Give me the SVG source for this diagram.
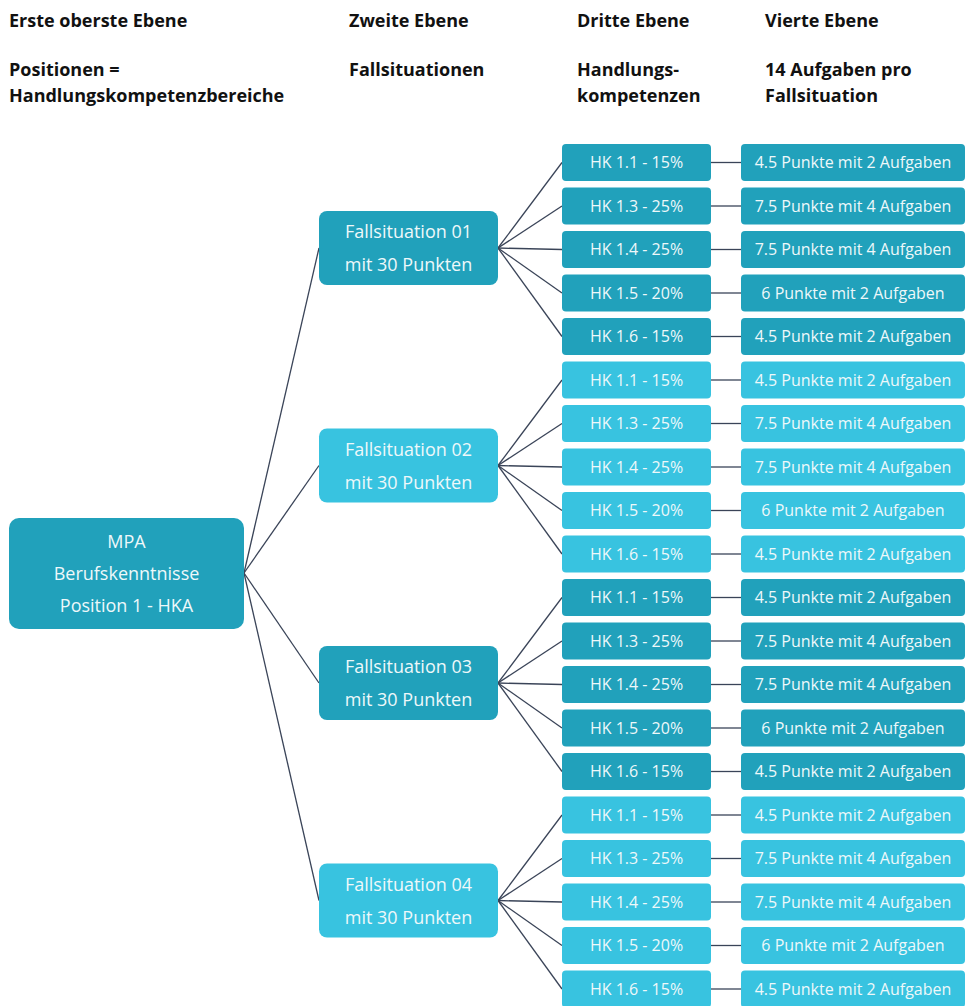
<svg xmlns="http://www.w3.org/2000/svg" width="972" height="1006" viewBox="0 0 972 1006">
<style>
.hdr{font-family:"Open Sans","Liberation Sans",sans-serif;font-weight:bold;font-size:18px;fill:#111111}
.t{font-family:"Open Sans","Liberation Sans",sans-serif;fill:#EEF8FA;text-anchor:middle}
.t18{font-size:18px}
.t16{font-size:16px}
.dk{fill:#21A1BB}
.lt{fill:#38C3E0}
.c line{stroke:#3A4458;stroke-width:1.3}
</style>
<rect width="972" height="1006" fill="#ffffff"/>
<g id="headers">
<text class="hdr" x="9" y="27">Erste oberste Ebene</text>
<text class="hdr" x="349" y="27">Zweite Ebene</text>
<text class="hdr" x="577" y="27">Dritte Ebene</text>
<text class="hdr" x="765" y="27">Vierte Ebene</text>
<text class="hdr" x="9" y="76">Positionen =</text>
<text class="hdr" x="9" y="102">Handlungskompetenzbereiche</text>
<text class="hdr" x="349" y="76">Fallsituationen</text>
<text class="hdr" x="577" y="76">Handlungs-</text>
<text class="hdr" x="577" y="102">kompetenzen</text>
<text class="hdr" x="765" y="76">14 Aufgaben pro</text>
<text class="hdr" x="765" y="102">Fallsituation</text>
</g>
<g class="c" id="connectors">
<line x1="244" y1="573" x2="319" y2="248"/>
<line x1="244" y1="573" x2="319" y2="465.5"/>
<line x1="244" y1="573" x2="319" y2="683"/>
<line x1="244" y1="573" x2="319" y2="900.5"/>
<line x1="498" y1="248" x2="562" y2="162.5"/>
<line x1="498" y1="248" x2="562" y2="206"/>
<line x1="498" y1="248" x2="562" y2="249.5"/>
<line x1="498" y1="248" x2="562" y2="293"/>
<line x1="498" y1="248" x2="562" y2="336.5"/>
<line x1="498" y1="465.5" x2="562" y2="380"/>
<line x1="498" y1="465.5" x2="562" y2="423.5"/>
<line x1="498" y1="465.5" x2="562" y2="467"/>
<line x1="498" y1="465.5" x2="562" y2="510.5"/>
<line x1="498" y1="465.5" x2="562" y2="554"/>
<line x1="498" y1="683" x2="562" y2="597.5"/>
<line x1="498" y1="683" x2="562" y2="641"/>
<line x1="498" y1="683" x2="562" y2="684.5"/>
<line x1="498" y1="683" x2="562" y2="728"/>
<line x1="498" y1="683" x2="562" y2="771.5"/>
<line x1="498" y1="900.5" x2="562" y2="815"/>
<line x1="498" y1="900.5" x2="562" y2="858.5"/>
<line x1="498" y1="900.5" x2="562" y2="902"/>
<line x1="498" y1="900.5" x2="562" y2="945.5"/>
<line x1="498" y1="900.5" x2="562" y2="989"/>
<line x1="711" y1="162.5" x2="741" y2="162.5"/>
<line x1="711" y1="206" x2="741" y2="206"/>
<line x1="711" y1="249.5" x2="741" y2="249.5"/>
<line x1="711" y1="293" x2="741" y2="293"/>
<line x1="711" y1="336.5" x2="741" y2="336.5"/>
<line x1="711" y1="380" x2="741" y2="380"/>
<line x1="711" y1="423.5" x2="741" y2="423.5"/>
<line x1="711" y1="467" x2="741" y2="467"/>
<line x1="711" y1="510.5" x2="741" y2="510.5"/>
<line x1="711" y1="554" x2="741" y2="554"/>
<line x1="711" y1="597.5" x2="741" y2="597.5"/>
<line x1="711" y1="641" x2="741" y2="641"/>
<line x1="711" y1="684.5" x2="741" y2="684.5"/>
<line x1="711" y1="728" x2="741" y2="728"/>
<line x1="711" y1="771.5" x2="741" y2="771.5"/>
<line x1="711" y1="815" x2="741" y2="815"/>
<line x1="711" y1="858.5" x2="741" y2="858.5"/>
<line x1="711" y1="902" x2="741" y2="902"/>
<line x1="711" y1="945.5" x2="741" y2="945.5"/>
<line x1="711" y1="989" x2="741" y2="989"/>
</g>
<g id="root">
<rect class="dk" x="9" y="518" width="235" height="111" rx="10"/>
<text class="t t18" x="126.5" y="548">MPA</text>
<text class="t t18" x="126.5" y="580">Berufskenntnisse</text>
<text class="t t18" x="126.5" y="612">Position 1 - HKA</text>
</g>
<g id="fs01"><rect class="dk" x="319" y="211" width="179" height="74" rx="8"/><text class="t t18" x="408.5" y="238">Fallsituation 01</text><text class="t t18" x="408.5" y="271">mit 30 Punkten</text></g>
<g id="fs02"><rect class="lt" x="319" y="428.5" width="179" height="74" rx="8"/><text class="t t18" x="408.5" y="455.5">Fallsituation 02</text><text class="t t18" x="408.5" y="488.5">mit 30 Punkten</text></g>
<g id="fs03"><rect class="dk" x="319" y="646" width="179" height="74" rx="8"/><text class="t t18" x="408.5" y="673">Fallsituation 03</text><text class="t t18" x="408.5" y="706">mit 30 Punkten</text></g>
<g id="fs04"><rect class="lt" x="319" y="863.5" width="179" height="74" rx="8"/><text class="t t18" x="408.5" y="890.5">Fallsituation 04</text><text class="t t18" x="408.5" y="923.5">mit 30 Punkten</text></g>

<g id="g1-hk11"><rect class="dk" x="562" y="144" width="149" height="37" rx="4"/><text class="t t16" x="636.5" y="168">HK 1.1 - 15%</text></g>
<g id="g1-hk13"><rect class="dk" x="562" y="187.5" width="149" height="37" rx="4"/><text class="t t16" x="636.5" y="211.5">HK 1.3 - 25%</text></g>
<g id="g1-hk14"><rect class="dk" x="562" y="231" width="149" height="37" rx="4"/><text class="t t16" x="636.5" y="255">HK 1.4 - 25%</text></g>
<g id="g1-hk15"><rect class="dk" x="562" y="274.5" width="149" height="37" rx="4"/><text class="t t16" x="636.5" y="298.5">HK 1.5 - 20%</text></g>
<g id="g1-hk16"><rect class="dk" x="562" y="318" width="149" height="37" rx="4"/><text class="t t16" x="636.5" y="342">HK 1.6 - 15%</text></g>
<g id="g2-hk11"><rect class="lt" x="562" y="361.5" width="149" height="37" rx="4"/><text class="t t16" x="636.5" y="385.5">HK 1.1 - 15%</text></g>
<g id="g2-hk13"><rect class="lt" x="562" y="405" width="149" height="37" rx="4"/><text class="t t16" x="636.5" y="429">HK 1.3 - 25%</text></g>
<g id="g2-hk14"><rect class="lt" x="562" y="448.5" width="149" height="37" rx="4"/><text class="t t16" x="636.5" y="472.5">HK 1.4 - 25%</text></g>
<g id="g2-hk15"><rect class="lt" x="562" y="492" width="149" height="37" rx="4"/><text class="t t16" x="636.5" y="516">HK 1.5 - 20%</text></g>
<g id="g2-hk16"><rect class="lt" x="562" y="535.5" width="149" height="37" rx="4"/><text class="t t16" x="636.5" y="559.5">HK 1.6 - 15%</text></g>
<g id="g3-hk11"><rect class="dk" x="562" y="579" width="149" height="37" rx="4"/><text class="t t16" x="636.5" y="603">HK 1.1 - 15%</text></g>
<g id="g3-hk13"><rect class="dk" x="562" y="622.5" width="149" height="37" rx="4"/><text class="t t16" x="636.5" y="646.5">HK 1.3 - 25%</text></g>
<g id="g3-hk14"><rect class="dk" x="562" y="666" width="149" height="37" rx="4"/><text class="t t16" x="636.5" y="690">HK 1.4 - 25%</text></g>
<g id="g3-hk15"><rect class="dk" x="562" y="709.5" width="149" height="37" rx="4"/><text class="t t16" x="636.5" y="733.5">HK 1.5 - 20%</text></g>
<g id="g3-hk16"><rect class="dk" x="562" y="753" width="149" height="37" rx="4"/><text class="t t16" x="636.5" y="777">HK 1.6 - 15%</text></g>
<g id="g4-hk11"><rect class="lt" x="562" y="796.5" width="149" height="37" rx="4"/><text class="t t16" x="636.5" y="820.5">HK 1.1 - 15%</text></g>
<g id="g4-hk13"><rect class="lt" x="562" y="840" width="149" height="37" rx="4"/><text class="t t16" x="636.5" y="864">HK 1.3 - 25%</text></g>
<g id="g4-hk14"><rect class="lt" x="562" y="883.5" width="149" height="37" rx="4"/><text class="t t16" x="636.5" y="907.5">HK 1.4 - 25%</text></g>
<g id="g4-hk15"><rect class="lt" x="562" y="927" width="149" height="37" rx="4"/><text class="t t16" x="636.5" y="951">HK 1.5 - 20%</text></g>
<g id="g4-hk16"><rect class="lt" x="562" y="970.5" width="149" height="37" rx="4"/><text class="t t16" x="636.5" y="994.5">HK 1.6 - 15%</text></g>

<g id="g1-a1"><rect class="dk" x="741" y="144" width="224" height="37" rx="4"/><text class="t t16" x="853" y="168">4.5 Punkte mit 2 Aufgaben</text></g>
<g id="g1-a3"><rect class="dk" x="741" y="187.5" width="224" height="37" rx="4"/><text class="t t16" x="853" y="211.5">7.5 Punkte mit 4 Aufgaben</text></g>
<g id="g1-a4"><rect class="dk" x="741" y="231" width="224" height="37" rx="4"/><text class="t t16" x="853" y="255">7.5 Punkte mit 4 Aufgaben</text></g>
<g id="g1-a5"><rect class="dk" x="741" y="274.5" width="224" height="37" rx="4"/><text class="t t16" x="853" y="298.5">6 Punkte mit 2 Aufgaben</text></g>
<g id="g1-a6"><rect class="dk" x="741" y="318" width="224" height="37" rx="4"/><text class="t t16" x="853" y="342">4.5 Punkte mit 2 Aufgaben</text></g>
<g id="g2-a1"><rect class="lt" x="741" y="361.5" width="224" height="37" rx="4"/><text class="t t16" x="853" y="385.5">4.5 Punkte mit 2 Aufgaben</text></g>
<g id="g2-a3"><rect class="lt" x="741" y="405" width="224" height="37" rx="4"/><text class="t t16" x="853" y="429">7.5 Punkte mit 4 Aufgaben</text></g>
<g id="g2-a4"><rect class="lt" x="741" y="448.5" width="224" height="37" rx="4"/><text class="t t16" x="853" y="472.5">7.5 Punkte mit 4 Aufgaben</text></g>
<g id="g2-a5"><rect class="lt" x="741" y="492" width="224" height="37" rx="4"/><text class="t t16" x="853" y="516">6 Punkte mit 2 Aufgaben</text></g>
<g id="g2-a6"><rect class="lt" x="741" y="535.5" width="224" height="37" rx="4"/><text class="t t16" x="853" y="559.5">4.5 Punkte mit 2 Aufgaben</text></g>
<g id="g3-a1"><rect class="dk" x="741" y="579" width="224" height="37" rx="4"/><text class="t t16" x="853" y="603">4.5 Punkte mit 2 Aufgaben</text></g>
<g id="g3-a3"><rect class="dk" x="741" y="622.5" width="224" height="37" rx="4"/><text class="t t16" x="853" y="646.5">7.5 Punkte mit 4 Aufgaben</text></g>
<g id="g3-a4"><rect class="dk" x="741" y="666" width="224" height="37" rx="4"/><text class="t t16" x="853" y="690">7.5 Punkte mit 4 Aufgaben</text></g>
<g id="g3-a5"><rect class="dk" x="741" y="709.5" width="224" height="37" rx="4"/><text class="t t16" x="853" y="733.5">6 Punkte mit 2 Aufgaben</text></g>
<g id="g3-a6"><rect class="dk" x="741" y="753" width="224" height="37" rx="4"/><text class="t t16" x="853" y="777">4.5 Punkte mit 2 Aufgaben</text></g>
<g id="g4-a1"><rect class="lt" x="741" y="796.5" width="224" height="37" rx="4"/><text class="t t16" x="853" y="820.5">4.5 Punkte mit 2 Aufgaben</text></g>
<g id="g4-a3"><rect class="lt" x="741" y="840" width="224" height="37" rx="4"/><text class="t t16" x="853" y="864">7.5 Punkte mit 4 Aufgaben</text></g>
<g id="g4-a4"><rect class="lt" x="741" y="883.5" width="224" height="37" rx="4"/><text class="t t16" x="853" y="907.5">7.5 Punkte mit 4 Aufgaben</text></g>
<g id="g4-a5"><rect class="lt" x="741" y="927" width="224" height="37" rx="4"/><text class="t t16" x="853" y="951">6 Punkte mit 2 Aufgaben</text></g>
<g id="g4-a6"><rect class="lt" x="741" y="970.5" width="224" height="37" rx="4"/><text class="t t16" x="853" y="994.5">4.5 Punkte mit 2 Aufgaben</text></g>
</svg>
